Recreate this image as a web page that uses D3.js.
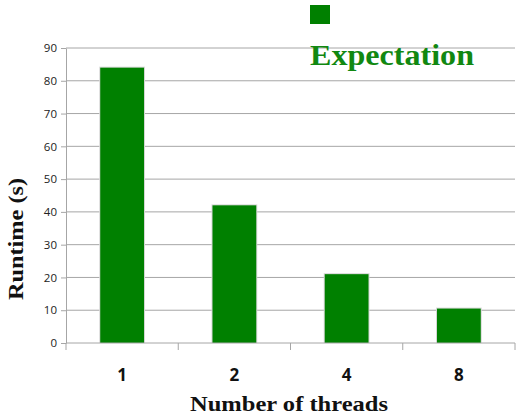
<!DOCTYPE html>
<html>
<head>
<meta charset="utf-8">
<script src="https://cdn.jsdelivr.net/npm/d3@7"></script>
<style>
  body { margin: 0; background: #fff; }
</style>
</head>
<body>
<div id="chart"></div>
<script>
  // runtime vs threads
  const threads = ["1", "2", "4", "8"];
  const runtime = [84, 42, 21, 10.5];
  const yTicks = [0, 10, 20, 30, 40, 50, 60, 70, 80, 90];
  const seriesName = "Expectation";

  const W = 516, H = 415;
  const margin = { top: 48, right: 1, bottom: 72, left: 66 };
  const innerW = W - margin.left - margin.right;
  const innerH = H - margin.top - margin.bottom;

  const svg = d3.select("#chart").append("svg")
    .attr("width", W).attr("height", H);

  const g = svg.append("g")
    .attr("transform", `translate(${margin.left},${margin.top})`);

  const x = d3.scaleBand().domain(threads).range([0, innerW])
    .paddingInner(0.61).paddingOuter(0.305);
  const xAxisScale = d3.scaleBand().domain(threads).range([0, innerW]);

  const y = d3.scaleLinear().domain([0, 90]).range([innerH, 0]);

  // gridlines
  g.append("g")
    .selectAll("line")
    .data(yTicks.filter(d => d > 0))
    .enter().append("line")
    .attr("x1", 0).attr("x2", innerW)
    .attr("y1", d => y(d)).attr("y2", d => y(d))
    .attr("stroke", "#a6a6a6").attr("stroke-width", 1);

  // bars with faint shadow
  g.append("g").selectAll("rect.shadow")
    .data(runtime).enter().append("rect")
    .attr("x", (d, i) => x(threads[i]) - 1)
    .attr("y", d => y(d) - 1)
    .attr("width", x.bandwidth() + 2)
    .attr("height", d => innerH - y(d) + 1)
    .attr("fill", "#d8d8d8");

  g.append("g").selectAll("rect.bar")
    .data(runtime).enter().append("rect")
    .attr("x", (d, i) => x(threads[i]))
    .attr("y", d => y(d))
    .attr("width", x.bandwidth())
    .attr("height", d => innerH - y(d))
    .attr("fill", "#008000");

  // y axis
  const yAxis = g.append("g")
    .call(d3.axisLeft(y).tickValues(yTicks).tickSize(5).tickSizeOuter(0));
  yAxis.select(".domain").attr("stroke", "#a6a6a6");
  yAxis.selectAll(".tick line").attr("stroke", "#a6a6a6");
  yAxis.selectAll(".tick text")
    .attr("font-family", "Open Sans, sans-serif")
    .attr("font-size", 11.5).attr("fill", "#222").attr("x", -9);

  // x axis: ticks at category boundaries
  const xAxis = g.append("g").attr("transform", `translate(0,${innerH})`);
  xAxis.append("line").attr("x1", 0).attr("x2", innerW)
    .attr("stroke", "#a6a6a6");
  xAxis.selectAll("line.tk")
    .data(threads.concat(["end"])).enter().append("line")
    .attr("x1", (d, i) => i * xAxisScale.step())
    .attr("x2", (d, i) => i * xAxisScale.step())
    .attr("y1", 0).attr("y2", 7)
    .attr("stroke", "#a6a6a6");
  xAxis.selectAll("text")
    .data(threads).enter().append("text")
    .attr("x", d => xAxisScale(d) + xAxisScale.bandwidth() / 2)
    .attr("y", 38)
    .attr("text-anchor", "middle")
    .attr("font-family", "Open Sans, sans-serif")
    .attr("font-weight", 700).attr("font-size", 17).attr("fill", "#111")
    .text(d => d);

  // axis titles
  svg.append("text")
    .attr("x", 190).attr("y", 411)
    .attr("textLength", 198).attr("lengthAdjust", "spacingAndGlyphs")
    .attr("font-family", "Liberation Serif, serif")
    .attr("font-weight", 700).attr("font-size", 21).attr("fill", "#111")
    .text("Number of threads");

  svg.append("text")
    .attr("transform", "translate(23,300) rotate(-90)")
    .attr("textLength", 122).attr("lengthAdjust", "spacingAndGlyphs")
    .attr("font-family", "Liberation Serif, serif")
    .attr("font-weight", 700).attr("font-size", 21).attr("fill", "#111")
    .text("Runtime (s)");

  // legend
  const legend = svg.append("g").attr("transform", "translate(310,5)");
  legend.append("rect").attr("width", 20).attr("height", 19).attr("fill", "#008000");
  legend.append("text").attr("x", 0).attr("y", 60)
    .attr("textLength", 164).attr("lengthAdjust", "spacingAndGlyphs")
    .attr("font-family", "Liberation Serif, serif")
    .attr("font-weight", 700).attr("font-size", 30).attr("fill", "#118811")
    .text(seriesName);
</script>
</body>
</html>
